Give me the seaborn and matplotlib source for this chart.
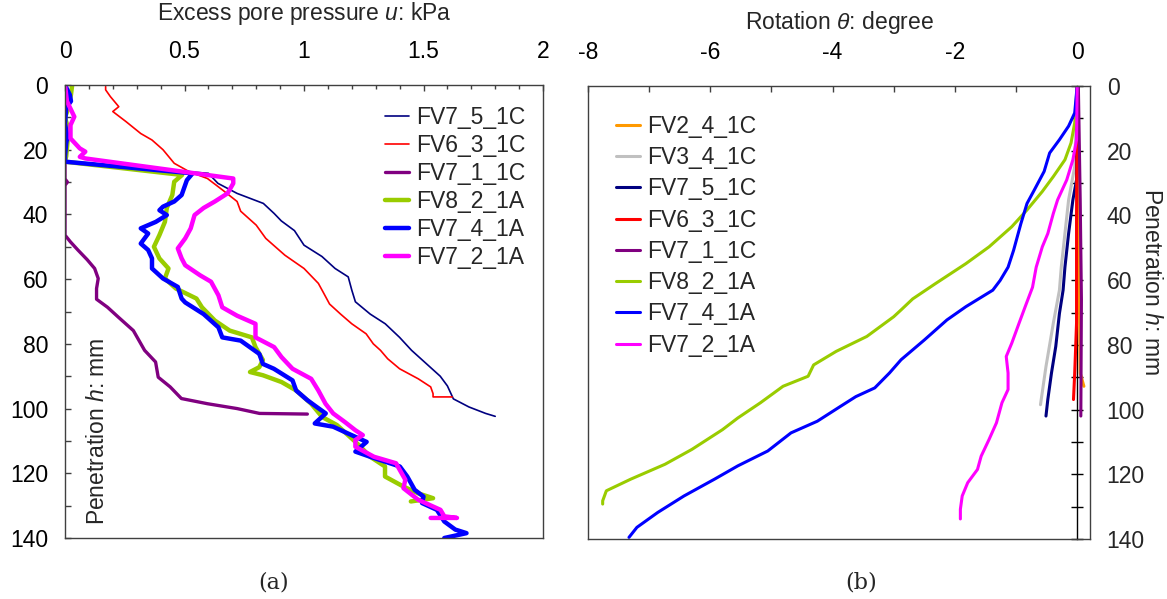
import numpy as np
import pandas as pd
import matplotlib
matplotlib.use("Agg")
import matplotlib.pyplot as plt
import seaborn as sns
from matplotlib.ticker import MultipleLocator, FuncFormatter

# ---------------- data: panel (a)  (penetration h [mm], excess pore pressure u [kPa]) ----------
a_FV7_5_1C = [(0, 0), (23.7, 0), (27.3, 0.6), (30.4, 0.64), (33.5, 0.72), (36.6, 0.83), (39.7, 0.875),
              (42, 0.905), (45, 0.96), (49.5, 1.0), (53, 1.075), (56.7, 1.13), (59.3, 1.185), (63.4, 1.2),
              (67, 1.215), (70.8, 1.277), (73.8, 1.34), (78, 1.4), (82, 1.45), (86, 1.51), (90, 1.57),
              (93, 1.6), (97, 1.625), (99.5, 1.69), (101.5, 1.76), (102.4, 1.8)]
a_FV6_3_1C = [(0.5, 0.17), (1.5, 0.17), (3.6, 0.19), (6.7, 0.225), (8.2, 0.2), (11.3, 0.255), (15, 0.317),
              (17, 0.364), (20, 0.41), (24.2, 0.457), (26.8, 0.52), (28.9, 0.596), (32.5, 0.66), (36, 0.72),
              (39, 0.735), (43.3, 0.8), (47.4, 0.84), (52.6, 0.92), (56.7, 1.0), (61.3, 1.06), (64, 1.08),
              (67.7, 1.107), (70.8, 1.153), (73.8, 1.2), (76.9, 1.26), (80, 1.29), (82, 1.32), (84.6, 1.35),
              (87.7, 1.4), (90.8, 1.478), (93.3, 1.53), (95.4, 1.54), (96.4, 1.54), (96.4, 1.62)]
a_FV7_1_1C = [(0, 0), (19, 0.0), (20, 0.01), (21, 0), (29, 0), (30, 0.01), (31, 0), (46.4, 0), (48.5, 0.023),
              (51, 0.054), (54, 0.093), (56.7, 0.124), (59.8, 0.139), (62.9, 0.132), (66.2, 0.132),
              (68.7, 0.178), (71.8, 0.224), (75.9, 0.286), (82, 0.333), (85.6, 0.379), (90.3, 0.39),
              (93.3, 0.44), (96.9, 0.487), (98.5, 0.596), (100, 0.72), (101.5, 0.814), (101.7, 1.014)]
a_FV8_2_1A = [(0, 0.03), (3, 0.025), (8, 0.01), (10, 0.0), (14, 0.015), (18, 0.01), (22, 0.005), (23.7, 0),
              (27.8, 0.49), (29.9, 0.457), (34, 0.449), (38, 0.426), (42.3, 0.418), (46.4, 0.395), (50, 0.372),
              (53.6, 0.395), (56.7, 0.433), (59.8, 0.418), (62.9, 0.464), (66, 0.55), (68.7, 0.573),
              (72.8, 0.627), (75.9, 0.689), (78, 0.782), (81, 0.797), (85, 0.828), (87.2, 0.813),
              (88.7, 0.774), (89.7, 0.828), (91.8, 0.906), (94.4, 0.967), (98.5, 1.03), (102.6, 1.076),
              (105.1, 1.138), (108.2, 1.184), (111.3, 1.23), (114.9, 1.277), (117.9, 1.339), (121, 1.339),
              (124.1, 1.416), (126.2, 1.478), (127.7, 1.54), (128.7, 1.447)]
a_FV7_4_1A = [(0, 0), (3, 0.02), (5, 0.025), (7, 0.005), (12, 0.0), (16, 0.01), (18, 0.005), (22, 0.0),
              (23.7, 0.0), (27.3, 0.534), (29.4, 0.51), (34, 0.488), (36, 0.457), (37.6, 0.41), (38.7, 0.395),
              (40.2, 0.426), (42.3, 0.38), (44.3, 0.317), (45.9, 0.348), (49, 0.317), (51, 0.348),
              (53.6, 0.364), (56.7, 0.364), (59.8, 0.41), (62.4, 0.472), (66, 0.488), (67.2, 0.503),
              (70.8, 0.58), (74.9, 0.642), (78, 0.658), (79, 0.735), (83.1, 0.813), (86.2, 0.828),
              (87.7, 0.874), (91.3, 0.952), (94.4, 0.967), (97.4, 1.014), (99.5, 1.053), (101.5, 1.091),
              (104.6, 1.045), (105.6, 1.122), (107.7, 1.184), (110.3, 1.262), (113.3, 1.215), (114.9, 1.277),
              (117.9, 1.401), (121, 1.432), (125.1, 1.463), (127.2, 1.5), (129.2, 1.494), (131.3, 1.556),
              (134.9, 1.587), (137.4, 1.633), (138.5, 1.68), (140, 1.587)]
a_FV7_2_1A = [(0, 0), (5, 0.008), (9.8, 0.039), (12.4, 0.023), (16.5, 0.023), (19.6, 0.062), (20.6, 0.085),
              (22.2, 0.062), (22.7, 0.085), (28.9, 0.704), (30.4, 0.704), (33.5, 0.68), (36, 0.627),
              (38, 0.58), (40.2, 0.542), (44.3, 0.526), (47.4, 0.503), (50.5, 0.472), (53.6, 0.488),
              (55.7, 0.503), (58.8, 0.565), (60.8, 0.611), (65, 0.642), (68.7, 0.658), (71.3, 0.72),
              (73.8, 0.797), (78, 0.797), (81, 0.875), (84.1, 0.906), (87.7, 0.952), (90.8, 1.03),
              (94.4, 1.06), (98.5, 1.09), (101.5, 1.122), (104.1, 1.17), (106.7, 1.215), (108.2, 1.246),
              (109.7, 1.215), (111.8, 1.215), (114.9, 1.293), (116.9, 1.385), (119, 1.401), (122, 1.424),
              (124.6, 1.416), (128.2, 1.478), (131.3, 1.571), (133.3, 1.587), (133.8, 1.64), (133.8, 1.53)]

# ---------------- data: panel (b)  (penetration h [mm], rotation theta [deg]) -------------------
b_FV2_4_1C = [(0, 0), (35, 0.02), (88.7, 0.05), (92.8, 0.11)]
b_FV3_4_1C = [(0, 0), (24.9, -0.04), (35.2, -0.14), (45.6, -0.2), (56, -0.26), (63.1, -0.29), (73.3, -0.39),
              (86.7, -0.51), (98.5, -0.6)]
b_FV7_5_1C = [(0, 0), (29, -0.01), (35.2, -0.07), (45.6, -0.14), (56, -0.2), (63.1, -0.23), (70.3, -0.29),
              (80.5, -0.35), (88.7, -0.42), (96.9, -0.48), (102, -0.51)]
b_FV6_3_1C = [(0, 0), (40, -0.01), (73.3, -0.01), (88.7, -0.04), (96.9, -0.06)]
b_FV7_1_1C = [(0, 0.02), (35, 0.05), (66, 0.07), (102, 0.06)]
b_FV8_2_1A = [(0, 0), (11.4, -0.04), (17.6, -0.1), (22.8, -0.2), (28, -0.39), (32.6, -0.57), (38.3, -0.82),
              (43.5, -1.07), (49.7, -1.44), (54.9, -1.82), (61.1, -2.32), (65.8, -2.69), (69.2, -2.88),
              (71.3, -3.0), (77.4, -3.44), (82, -3.94), (86.2, -4.31), (89.7, -4.40), (92.8, -4.81),
              (97.9, -5.18), (102.6, -5.55), (106.2, -5.8), (112.3, -6.3), (116.9, -6.74), (121.5, -7.3),
              (125.1, -7.7), (128.2, -7.76), (129.2, -7.76)]
b_FV7_4_1A = [(0, 0), (8.3, -0.04), (12.4, -0.14), (16.6, -0.29), (20.7, -0.45), (26.4, -0.54), (32.1, -0.7),
              (36.3, -0.82), (42.5, -0.92), (50.8, -1.04), (56, -1.13), (60.1, -1.26), (63.1, -1.38),
              (68.2, -1.82), (72.3, -2.13), (78.5, -2.5), (84.6, -2.88), (88.7, -3.07), (93.3, -3.31),
              (96, -3.62), (99, -3.87), (103.6, -4.25), (107.2, -4.68), (112.8, -5.06), (117.4, -5.55),
              (121.5, -5.93), (126.7, -6.43), (131.8, -6.86), (136.4, -7.2), (139.5, -7.33)]
b_FV7_2_1A = [(0, 0), (16.6, -0.01), (22.8, -0.07), (29, -0.17), (35.2, -0.32), (39.4, -0.39), (45.6, -0.48),
              (49.7, -0.57), (56, -0.67), (62.2, -0.73), (68.2, -0.85), (73.3, -0.95), (79.5, -1.07),
              (83.6, -1.16), (88.7, -1.13), (93.8, -1.13), (97.9, -1.23), (104.1, -1.32), (109.2, -1.44),
              (114.4, -1.57), (118.5, -1.63), (122.6, -1.79), (126.7, -1.88), (130.8, -1.91), (133.8, -1.91)]

series_a = [("FV7_5_1C", a_FV7_5_1C), ("FV6_3_1C", a_FV6_3_1C), ("FV7_1_1C", a_FV7_1_1C),
            ("FV8_2_1A", a_FV8_2_1A), ("FV7_4_1A", a_FV7_4_1A), ("FV7_2_1A", a_FV7_2_1A)]
series_b = [("FV2_4_1C", b_FV2_4_1C), ("FV3_4_1C", b_FV3_4_1C), ("FV7_5_1C", b_FV7_5_1C),
            ("FV6_3_1C", b_FV6_3_1C), ("FV7_1_1C", b_FV7_1_1C), ("FV8_2_1A", b_FV8_2_1A),
            ("FV7_4_1A", b_FV7_4_1A), ("FV7_2_1A", b_FV7_2_1A)]

colors = {"FV2_4_1C": "#ff9900", "FV3_4_1C": "#c0c0c0", "FV7_5_1C": "#000080", "FV6_3_1C": "#ff0000",
          "FV7_1_1C": "#800080", "FV8_2_1A": "#99cc00", "FV7_4_1A": "#0000ff", "FV7_2_1A": "#ff00ff"}
lw_a = {"FV7_5_1C": 1.2, "FV6_3_1C": 1.2, "FV7_1_1C": 2.4, "FV8_2_1A": 3.2, "FV7_4_1A": 3.2, "FV7_2_1A": 3.2}

# ---------------- style -----------------
sns.set_theme(style="white")
plt.rcParams["font.family"] = ["Liberation Sans", "DejaVu Sans"]
plt.rcParams["axes.unicode_minus"] = False
plt.rcParams["mathtext.fontset"] = "custom"
plt.rcParams["mathtext.it"] = "Liberation Sans:italic"
plt.rcParams["mathtext.rm"] = "Liberation Sans"
FS = 16.5
SPINE = "#404040"

fig = plt.figure(figsize=(11.67, 5.99), dpi=100)
fig.patch.set_facecolor("white")
ax1 = fig.add_axes([65 / 1167, 1 - 538 / 599, 478 / 1167, 453 / 599])
ax2 = fig.add_axes([588 / 1167, 1 - 539 / 599, 502 / 1167, 453 / 599])

df_a = pd.concat([pd.DataFrame(d, columns=["h", "u"]).assign(series=n) for n, d in series_a], ignore_index=True)
df_b = pd.concat([pd.DataFrame(d, columns=["h", "theta"]).assign(series=n) for n, d in series_b], ignore_index=True)

for name, _ in series_a:
    sns.lineplot(data=df_a[df_a.series == name], x="u", y="h", sort=False, estimator=None,
                 color=colors[name], lw=lw_a[name], ax=ax1, label=name)
for name, _ in series_b:
    sns.lineplot(data=df_b[df_b.series == name], x="theta", y="h", sort=False, estimator=None,
                 color=colors[name], lw=2.2, ax=ax2, label=name)

fmt = FuncFormatter(lambda v, p: "%g" % v)

# ---- panel (a) axes
ax1.set_xlim(0, 2)
ax1.set_ylim(140, 0)
ax1.xaxis.tick_top()
ax1.xaxis.set_major_locator(MultipleLocator(0.5))
ax1.xaxis.set_minor_locator(MultipleLocator(0.1))
ax1.yaxis.set_major_locator(MultipleLocator(20))
ax1.yaxis.set_minor_locator(MultipleLocator(10))
ax1.xaxis.set_major_formatter(fmt)
ax1.yaxis.set_major_formatter(fmt)
ax1.tick_params(axis="x", which="both", direction="in", top=True, bottom=False, labeltop=True,
                labelbottom=False, colors=SPINE, labelcolor="black", labelsize=FS, pad=16)
ax1.tick_params(axis="x", which="major", length=4.5, width=1)
ax1.tick_params(axis="x", which="minor", length=3, width=1)
ax1.tick_params(axis="y", which="both", direction="in", left=True, right=False, length=4.5, width=1,
                colors=SPINE, labelcolor="black", labelsize=FS, pad=12)
ax1.set_xlabel("Excess pore pressure $u$: kPa", fontsize=FS, va="center", ha="center")
ax1.xaxis.set_label_position("top")
ax1.xaxis.set_label_coords(0.5, 1 + (85 - 20) / 453)
ax1.set_ylabel("Penetration $h$: mm", fontsize=FS, va="center", ha="center")
ax1.yaxis.set_label_coords(0.069, 0.236)
ax1.legend(loc="upper left", bbox_to_anchor=(0.669, 0.954), frameon=False, borderpad=0, borderaxespad=0,
           handlelength=1.05, handletextpad=0.3, labelspacing=0.22, fontsize=FS)

# ---- panel (b) axes
ax2.set_xlim(-8, 0.21)
ax2.set_ylim(140, 0)
ax2.xaxis.tick_top()
ax2.xaxis.set_major_locator(MultipleLocator(2))
ax2.xaxis.set_minor_locator(MultipleLocator(1))
ax2.yaxis.set_major_locator(MultipleLocator(20))
ax2.yaxis.set_minor_locator(MultipleLocator(10))
ax2.xaxis.set_major_formatter(fmt)
ax2.yaxis.set_major_formatter(fmt)
ax2.tick_params(axis="x", which="both", direction="in", top=True, bottom=False, labeltop=True,
                labelbottom=False, length=4.5, width=1, colors=SPINE, labelcolor="black",
                labelsize=FS, pad=16)
ax2.tick_params(axis="y", which="both", left=False, right=False, labelleft=False, labelright=True,
                length=0, labelsize=FS, pad=12)
ax2.set_xlabel("Rotation $\\theta$: degree", fontsize=FS, va="center", ha="center")
ax2.xaxis.set_label_position("top")
ax2.xaxis.set_label_coords(0.5, 1 + (87 - 30) / 453)
ax2.yaxis.set_label_position("right")
ax2.set_ylabel("Penetration $h$: mm", fontsize=FS, rotation=270, va="center", ha="center")
ax2.yaxis.set_label_coords(1.123, 0.567)
ax2.legend(loc="upper left", bbox_to_anchor=(0.0558, 0.936), frameon=False, borderpad=0, borderaxespad=0,
           handlelength=1.05, handletextpad=0.3, labelspacing=0.36, fontsize=FS)

# vertical axis crossing at theta = 0 with cross ticks
x0 = (0 - (-8)) / (0.21 - (-8))
sec = ax2.secondary_yaxis(x0)
sec.yaxis.set_major_locator(MultipleLocator(20))
sec.yaxis.set_minor_locator(MultipleLocator(10))
sec.tick_params(axis="y", which="both", direction="inout", length=9, width=1, colors="black",
                labelleft=False, labelright=False)
for s in sec.spines.values():
    s.set_color("black")
    s.set_linewidth(1)

for ax in (ax1, ax2):
    ax.set_facecolor("white")
    for s in ax.spines.values():
        s.set_visible(True)
        s.set_color(SPINE)
        s.set_linewidth(1)

fig.text(274 / 1167, 1 - 582 / 599, "(a)", family="DejaVu Serif", fontsize=16, ha="center", va="center")
fig.text(861 / 1167, 1 - 582 / 599, "(b)", family="DejaVu Serif", fontsize=16, ha="center", va="center")

fig.savefig("out.png", dpi=100, facecolor="white")
